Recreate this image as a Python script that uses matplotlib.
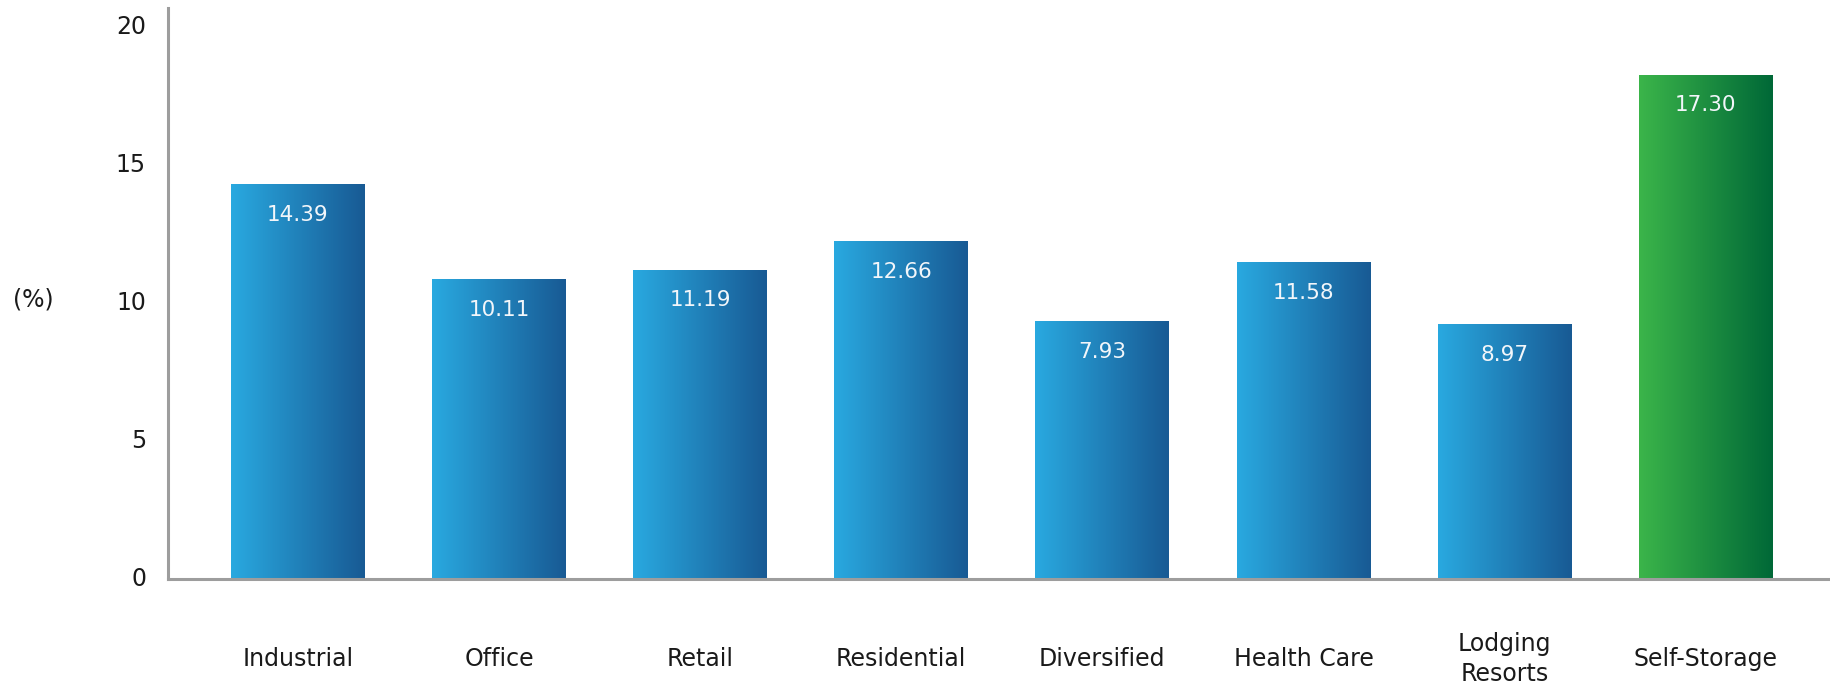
import matplotlib
matplotlib.use("Agg")
import matplotlib.pyplot as plt
import matplotlib.transforms as mtransforms
import numpy as np
from matplotlib.colors import LinearSegmentedColormap

plt.rcParams["font.family"] = ["DejaVu Sans"]

categories = ["Industrial", "Office", "Retail", "Residential", "Diversified",
              "Health Care", "Lodging\nResorts", "Self-Storage"]
# bar heights as drawn in the picture
heights = [14.30, 10.85, 11.20, 12.23, 9.33, 11.47, 9.22, 18.26]
# value labels as printed on the bars
value_labels = ["14.39", "10.11", "11.19", "12.66", "7.93", "11.58", "8.97", "17.30"]
highlight = "Self-Storage"
y_ticks = [0, 5, 10, 15, 20]

blue_cmap = LinearSegmentedColormap.from_list("blue", ["#29A9E0", "#185A94"])
green_cmap = LinearSegmentedColormap.from_list("green", ["#3BB54A", "#006837"])
gradient = np.linspace(0, 1, 256).reshape(1, -1)

fig = plt.figure(figsize=(18.31, 6.89), dpi=100)
ax = fig.add_axes([168 / 1831, 110 / 689, 1 - 168 / 1831, 571 / 689])

x = np.arange(len(categories))
bars = ax.bar(x, heights, width=0.666, color="none", zorder=1)
for bar, cat, label in zip(bars, categories, value_labels):
    x0, w, h = bar.get_x(), bar.get_width(), bar.get_height()
    cmap = green_cmap if cat == highlight else blue_cmap
    ax.imshow(gradient, extent=[x0, x0 + w, 0, h], aspect="auto", cmap=cmap, zorder=2)
    ax.annotate(label, xy=(x0 + w / 2, h), xytext=(0, -30), textcoords="offset pixels",
                ha="center", va="center", color="#f2f6fa", fontsize=15.5, zorder=3)

ax.set_xlim(-0.646, 7.623)
ax.set_ylim(0, 20.7)
ax.set_xticks(x)
ax.set_xticklabels(categories, fontsize=17, color="#1a1a1a", linespacing=1.35)
for t in ax.get_xticklabels():
    t.set_va("center")
ax.set_yticks(y_ticks)
ax.set_yticklabels([str(v) for v in y_ticks], fontsize=17, color="#1a1a1a")
ax.tick_params(axis="x", length=0, pad=57.6)
ax.tick_params(axis="y", length=0, pad=15.8)
lift = mtransforms.ScaledTranslation(0, 3 / 100, fig.dpi_scale_trans)
for tick in ax.yaxis.get_major_ticks():
    tick.label1.set_transform(tick.label1.get_transform() + lift)

for side in ("top", "right"):
    ax.spines[side].set_visible(False)
for side in ("left", "bottom"):
    ax.spines[side].set_color("#9d9d9d")
    ax.spines[side].set_linewidth(2.2)

fig.text(33 / 1831, 1 - 300 / 689, "(%)", ha="center", va="center", fontsize=17, color="#1a1a1a")

fig.savefig("out.png", dpi=100)
plt.close(fig)
